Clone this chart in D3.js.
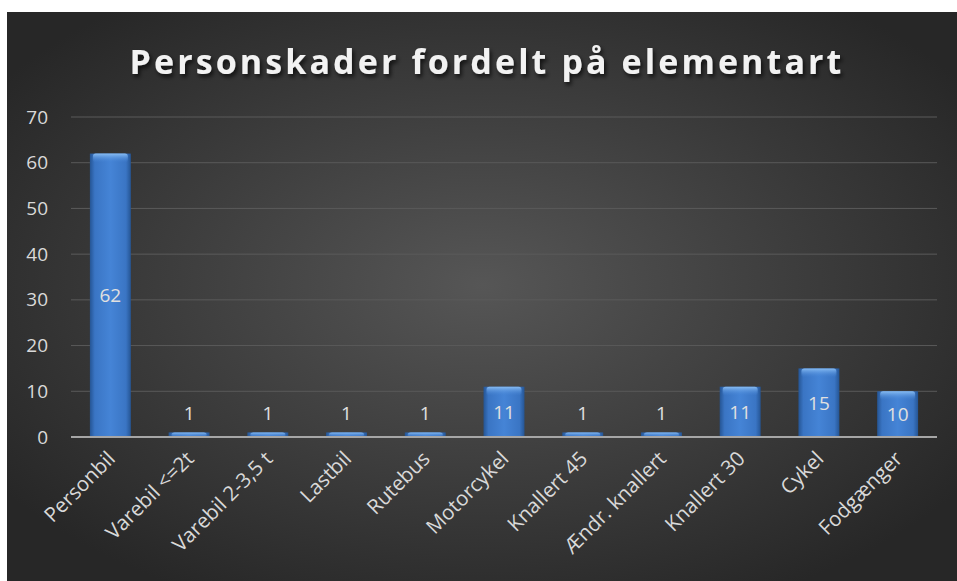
<html lang="en">
<head>
<style>
    body { margin: 0; background: #ffffff; }
    text { font-family: "Open Sans", "Noto Sans", sans-serif; }
</style>
</head>
<body>
</body>
<script type='text/javascript' src='https://d3js.org/d3.v7.min.js'></script>
<script>
    var categories = ["Personbil", "Varebil <=2t", "Varebil 2-3,5 t", "Lastbil", "Rutebus",
        "Motorcykel", "Knallert 45", "Ændr. knallert", "Knallert 30", "Cykel", "Fodgænger"];
    var values = [62, 1, 1, 1, 1, 11, 1, 1, 11, 15, 10];
    var yTicks = [0, 10, 20, 30, 40, 50, 60, 70];
    var title = "Personskader fordelt på elementart";

    var width = 957, height = 581;
    var margin = {left: 71, right: 20, top: 117, bottom: 144};

    var svg = d3.select("body").append("svg")
        .attr("width", width)
        .attr("height", height);

    var defs = svg.append("defs");
    var bg = defs.append("radialGradient").attr("id", "bg")
        .attr("cx", "50%").attr("cy", "48%").attr("r", "62%");
    bg.append("stop").attr("offset", "0%").attr("stop-color", "#565656");
    bg.append("stop").attr("offset", "100%").attr("stop-color", "#272727");

    var barGrad = defs.append("linearGradient").attr("id", "bar")
        .attr("x1", "0").attr("x2", "1").attr("y1", "0").attr("y2", "0");
    barGrad.append("stop").attr("offset", "0%").attr("stop-color", "#255594");
    barGrad.append("stop").attr("offset", "12%").attr("stop-color", "#3a75c4");
    barGrad.append("stop").attr("offset", "50%").attr("stop-color", "#4584d6");
    barGrad.append("stop").attr("offset", "88%").attr("stop-color", "#3a75c4");
    barGrad.append("stop").attr("offset", "100%").attr("stop-color", "#255594");

    var hlGrad = defs.append("linearGradient").attr("id", "hl")
        .attr("x1", "0").attr("x2", "0").attr("y1", "0").attr("y2", "1");
    hlGrad.append("stop").attr("offset", "0%").attr("stop-color", "#8cc0f5").attr("stop-opacity", 0.95);
    hlGrad.append("stop").attr("offset", "100%").attr("stop-color", "#4584d6").attr("stop-opacity", 0);

    var shadow = defs.append("filter").attr("id", "shadow")
        .attr("x", "-10%").attr("y", "-30%").attr("width", "120%").attr("height", "160%");
    shadow.append("feDropShadow").attr("dx", 2).attr("dy", 3)
        .attr("stdDeviation", 2).attr("flood-color", "#000").attr("flood-opacity", 0.7);

    // panel
    svg.append("rect")
        .attr("x", 7).attr("y", 12)
        .attr("width", width - 7).attr("height", height - 12)
        .attr("fill", "url(#bg)");

    svg.append("text")
        .attr("x", 487).attr("y", 74)
        .attr("text-anchor", "middle")
        .attr("fill", "#f2f2f2")
        .attr("font-size", 34)
        .attr("font-weight", "bold")
        .attr("letter-spacing", 3.1)
        .attr("filter", "url(#shadow)")
        .text(title);

    var x = d3.scaleBand()
        .domain(categories)
        .range([margin.left, width - margin.right])
        .paddingInner(0.48)
        .paddingOuter(0.24);

    var y = d3.scaleLinear()
        .domain([0, 70])
        .range([height - margin.bottom, margin.top]);

    // gridlines
    svg.append("g")
        .selectAll("line")
        .data(yTicks.filter(function(d) { return d > 0; }))
        .enter().append("line")
        .attr("x1", margin.left).attr("x2", width - margin.right)
        .attr("y1", function(d) { return y(d); })
        .attr("y2", function(d) { return y(d); })
        .attr("stroke", "#5a5a5a")
        .attr("stroke-width", 1);

    var yAxis = svg.append("g")
        .attr("transform", "translate(" + (margin.left - 20) + ",0)")
        .call(d3.axisLeft(y).tickValues(yTicks).tickSize(0));
    yAxis.select(".domain").remove();
    yAxis.selectAll("text")
        .attr("fill", "#d9d9d9")
        .attr("font-size", 19)
        .attr("font-family", "'Open Sans', sans-serif");

    // bars
    var bars = svg.append("g");
    bars.selectAll("rect")
        .data(values)
        .enter().append("rect")
        .attr("x", function(d, i) { return x(categories[i]); })
        .attr("y", function(d) { return y(d); })
        .attr("width", x.bandwidth())
        .attr("height", function(d) { return y(0) - y(d); })
        .attr("fill", "url(#bar)");
    // top highlight
    bars.selectAll(".hl")
        .data(values)
        .enter().append("rect")
        .attr("class", "hl")
        .attr("x", function(d, i) { return x(categories[i]) + 3; })
        .attr("y", function(d) { return y(d); })
        .attr("width", x.bandwidth() - 6)
        .attr("height", function(d) { return Math.min(9, y(0) - y(d)); })
        .attr("rx", 3)
        .attr("fill", "url(#hl)");

    // axis line
    svg.append("line")
        .attr("x1", margin.left).attr("x2", width - margin.right)
        .attr("y1", y(0)).attr("y2", y(0))
        .attr("stroke", "#a6a6a6")
        .attr("stroke-width", 2);

    // value labels
    svg.append("g")
        .selectAll("text")
        .data(values)
        .enter().append("text")
        .attr("x", function(d, i) { return x(categories[i]) + x.bandwidth() / 2; })
        .attr("y", function(d) {
            if (d < 5) return y(d) - 12;
            return (y(d) + y(0)) / 2 + 7;
        })
        .attr("text-anchor", "middle")
        .attr("fill", "#e0e0e0")
        .attr("font-size", 19)
        .text(function(d) { return d; });

    // category labels
    svg.append("g")
        .selectAll("text")
        .data(categories)
        .enter().append("text")
        .attr("transform", function(d) {
            return "translate(" + (x(d) + x.bandwidth() / 2 + 6) + "," + (y(0) + 23) + ") rotate(-45)";
        })
        .attr("text-anchor", "end")
        .attr("fill", "#d9d9d9")
        .attr("font-size", 20.5)
        .text(function(d) { return d; });
</script>
</html>
